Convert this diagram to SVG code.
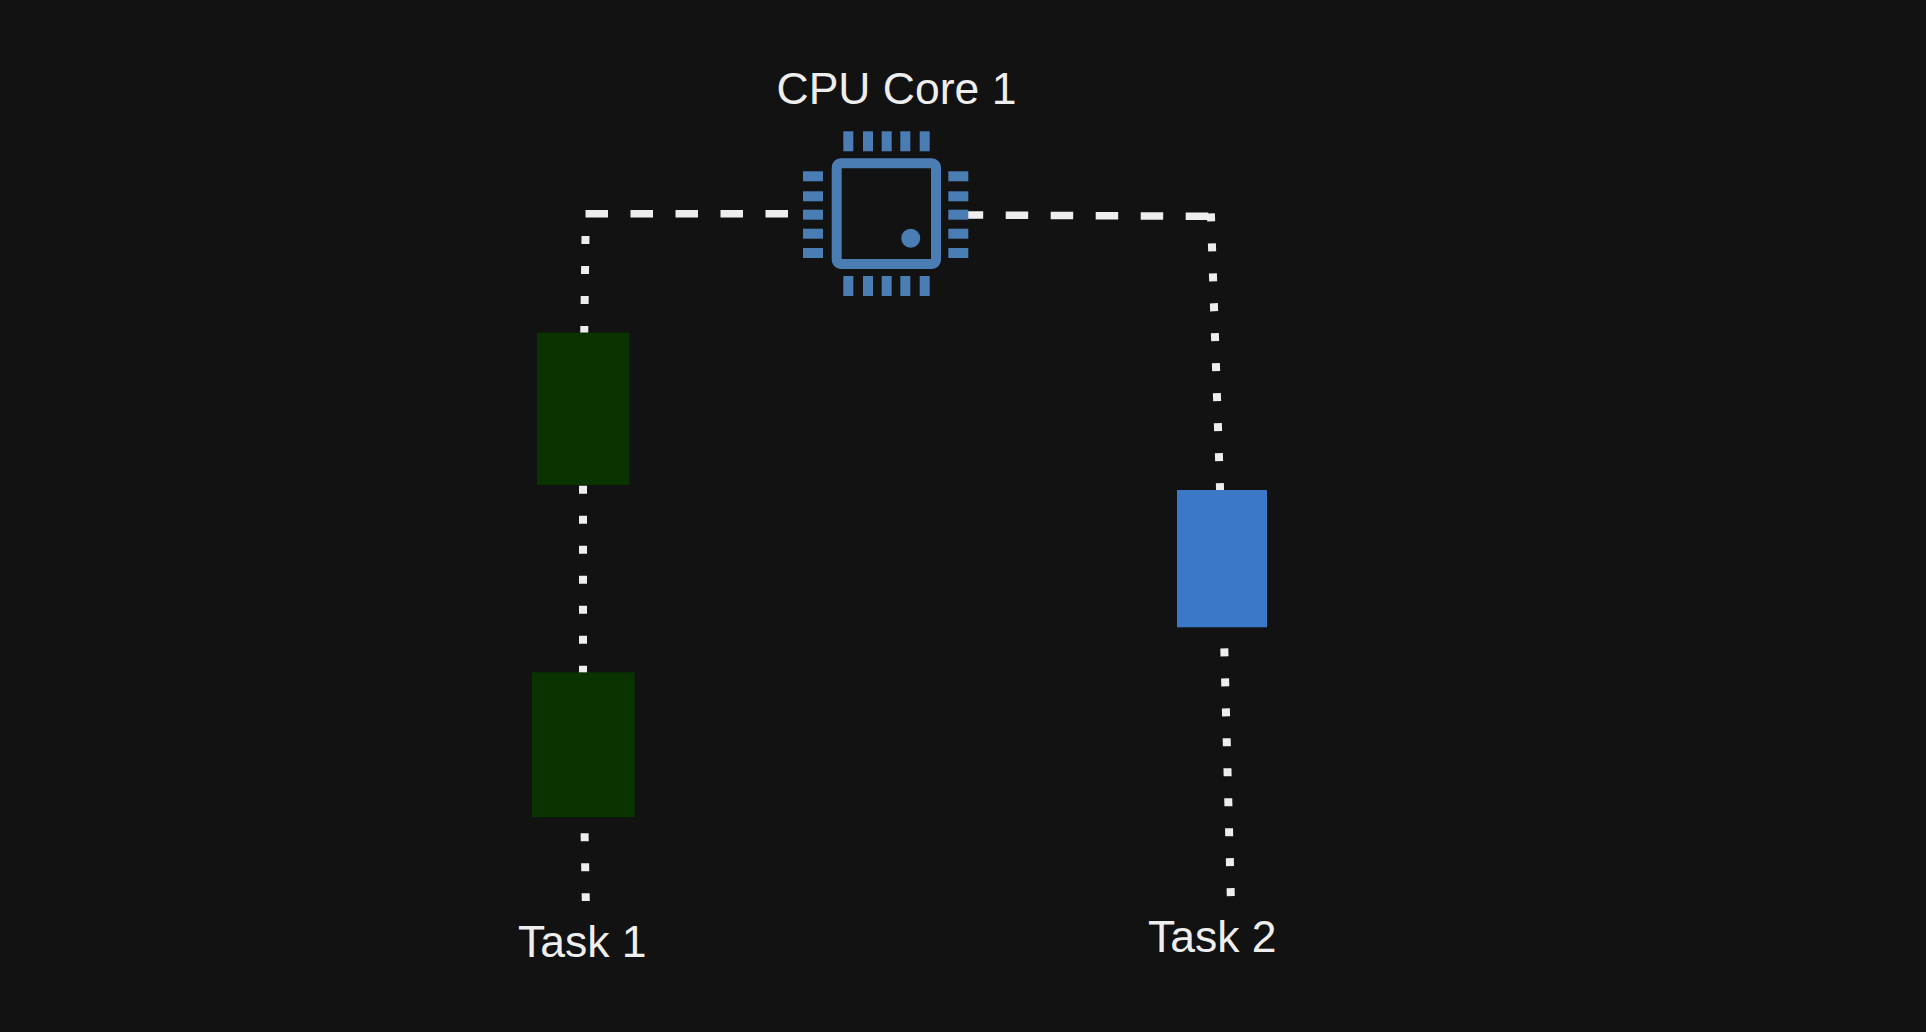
<svg xmlns="http://www.w3.org/2000/svg" width="1926" height="1032" viewBox="0 0 1926 1032">
<style>
text{font-family:"Liberation Sans",Arial,sans-serif;font-size:44.5px;fill:#eeeeee}
.dash{fill:none;stroke:#eeeeee;stroke-width:7.5;stroke-dasharray:22.5 22.5}
.dot{fill:none;stroke:#eeeeee;stroke-width:8;stroke-dasharray:8 22}
.pin{fill:#4a7db3}
</style>
<rect width="1926" height="1032" fill="#121212"/>
<g id="connectors">
<path class="dash" d="M585.5 213.8L790 213.8"/>
<path class="dash" d="M960.7 215L1208.3 216.3"/>
<path class="dot" d="M585.5 236L584.2 336"/>
<path class="dot" d="M583 485.7L583 675"/>
<path class="dot" d="M584.6 833.3L585.8 901"/>
<path class="dot" d="M1210.9 213.3L1220.2 494"/>
<path class="dot" d="M1224.3 648.3L1230.8 896.3"/>
</g>
<g id="cpu-core-1">
<rect x="836.7" y="163.3" width="99.3" height="100.7" rx="4" fill="none" stroke="#4a7db3" stroke-width="10"/>
<circle cx="910.7" cy="238.3" r="9.5" fill="#4a7db3"/>
<rect class="pin" x="843.3" y="131.3" width="10" height="20"/>
<rect class="pin" x="863" y="131.3" width="10" height="20"/>
<rect class="pin" x="881.7" y="131.3" width="10" height="20"/>
<rect class="pin" x="900.3" y="131.3" width="10" height="20"/>
<rect class="pin" x="919.7" y="131.3" width="10" height="20"/>
<rect class="pin" x="843.3" y="276" width="10" height="20"/>
<rect class="pin" x="863" y="276" width="10" height="20"/>
<rect class="pin" x="881.7" y="276" width="10" height="20"/>
<rect class="pin" x="900.3" y="276" width="10" height="20"/>
<rect class="pin" x="919.7" y="276" width="10" height="20"/>
<rect class="pin" x="803" y="171.3" width="20" height="10"/>
<rect class="pin" x="803" y="191.3" width="20" height="10"/>
<rect class="pin" x="803" y="209.7" width="20" height="10"/>
<rect class="pin" x="803" y="228.7" width="20" height="10"/>
<rect class="pin" x="803" y="248" width="20" height="10"/>
<rect class="pin" x="948.3" y="171.3" width="20" height="10"/>
<rect class="pin" x="948.3" y="191.3" width="20" height="10"/>
<rect class="pin" x="948.3" y="209.7" width="20" height="10"/>
<rect class="pin" x="948.3" y="228.7" width="20" height="10"/>
<rect class="pin" x="948.3" y="248" width="20" height="10"/>
<text x="776.5" y="104.3">CPU Core 1</text>
</g>
<g id="task-1-block-1"><rect x="537" y="332.5" width="92.5" height="152.5" fill="#093400"/></g>
<g id="task-1-block-2"><rect x="532" y="672.3" width="102.7" height="145" fill="#093400"/></g>
<g id="task-2-block"><rect x="1177" y="490" width="90" height="137.3" fill="#3c78c8"/></g>
<g id="task-1-label"><text x="518" y="956.7">Task 1</text></g>
<g id="task-2-label"><text x="1148" y="952">Task 2</text></g>
</svg>
